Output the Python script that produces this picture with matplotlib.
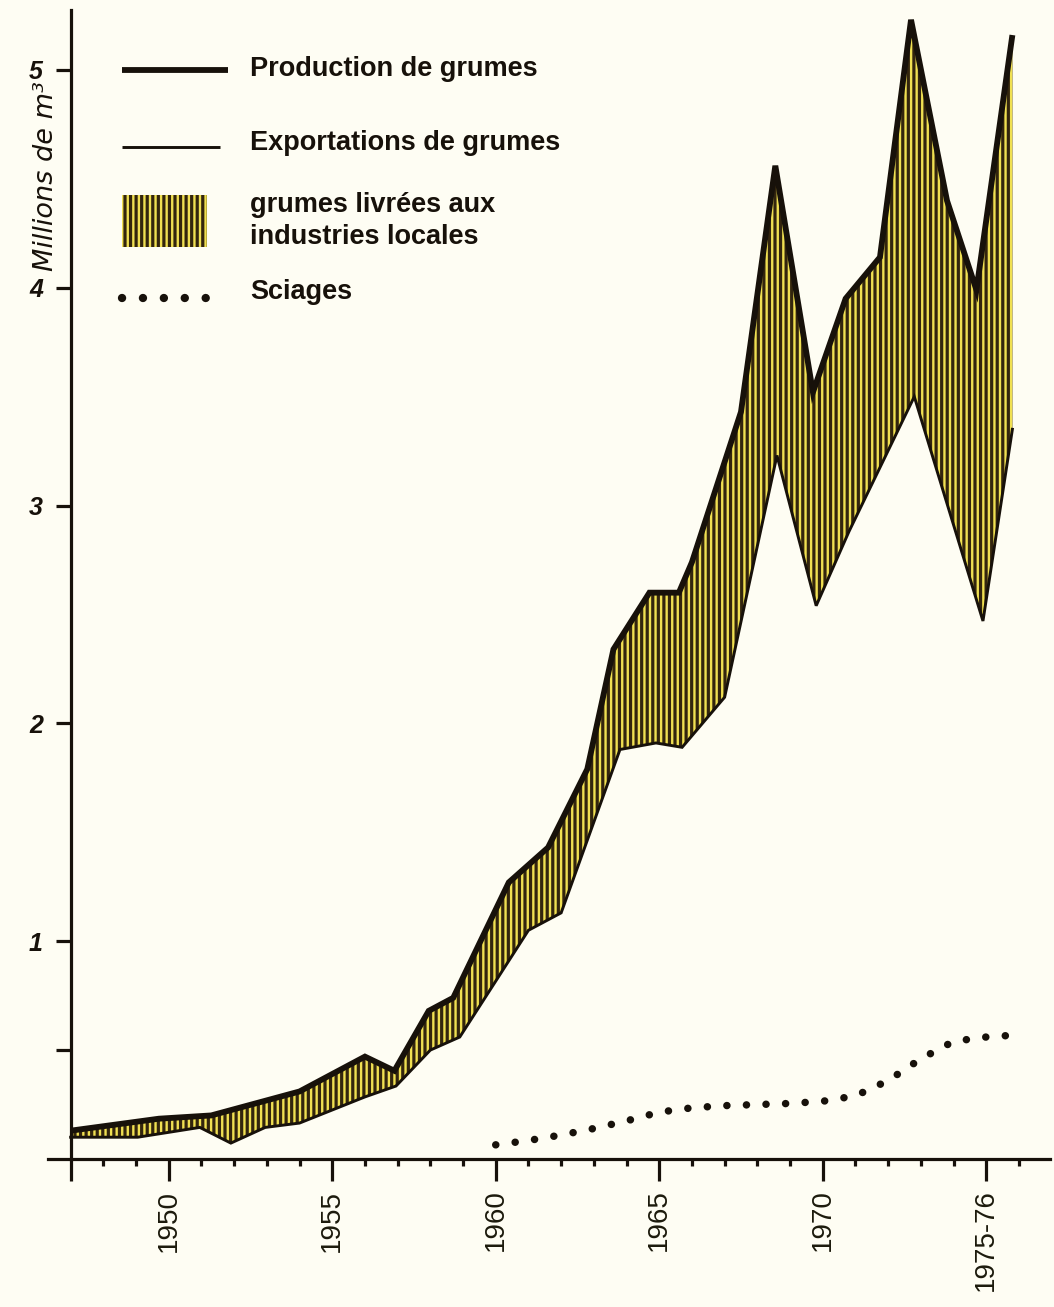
import numpy as np
import matplotlib
matplotlib.use("Agg")
import matplotlib.pyplot as plt
from matplotlib.lines import Line2D
from matplotlib.patches import Rectangle

# ---------------- data (x in years) ----------------
prod_x = [1947.0, 1949.7, 1951.3, 1954.0, 1956.0, 1956.9, 1957.95, 1958.7,
          1960.4, 1961.6, 1962.8, 1963.6, 1964.7, 1965.6, 1966.0, 1967.5,
          1968.55, 1969.7, 1970.7, 1971.75, 1972.7, 1973.8, 1974.7, 1975.8]
prod_y = [0.13, 0.185, 0.20, 0.31, 0.47, 0.405, 0.68, 0.74,
          1.27, 1.43, 1.79, 2.34, 2.60, 2.60, 2.74, 3.43,
          4.56, 3.52, 3.95, 4.14, 5.23, 4.40, 3.99, 5.16]

exp_x = [1947.0, 1949.05, 1950.95, 1951.9, 1952.95, 1954.0, 1956.0, 1956.95,
         1958.0, 1958.9, 1961.0, 1962.0, 1963.8, 1964.9, 1965.7, 1967.0,
         1968.6, 1969.8, 1970.8, 1972.8, 1974.9, 1975.8]
exp_y = [0.10, 0.10, 0.145, 0.073, 0.145, 0.165, 0.285, 0.335,
         0.50, 0.56, 1.05, 1.13, 1.88, 1.91, 1.89, 2.12,
         3.23, 2.54, 2.88, 3.50, 2.47, 3.35]

sci_years = list(range(1960, 1977))
sci_vals = [0.065, 0.085, 0.11, 0.14, 0.175, 0.215, 0.235, 0.245, 0.25,
            0.255, 0.265, 0.29, 0.36, 0.46, 0.54, 0.56, 0.57]

xtick_pos = [1947, 1950, 1955, 1960, 1965, 1970, 1975]
xtick_lab = ["", "1950", "1955", "1960", "1965", "1970", "1975-76"]
ytick_pos = [1, 2, 3, 4, 5]
ytick_lab = ["1", "2", "3", "4", "5"]

labels = ["Production de grumes", "Exportations de grumes",
          "grumes livrées aux\nindustries locales", "Sciages"]

# ---------------- style ----------------
W, H = 1054, 1307
BG = "#fefdf3"
INK = "#17110a"
YEL = "#f0e052"
HATCH = "#33250e"
plt.rcParams["hatch.linewidth"] = 2.3
plt.rcParams["hatch.color"] = HATCH

fig = plt.figure(figsize=(W / 100, H / 100), dpi=100, facecolor=BG)
ax = fig.add_axes([0.0453, 0.11324, 0.9509, 0.87911])
ax.set_facecolor(BG)
ax.set_xlim(1946.3, 1976.95)
ax.set_ylim(0, 5.275)

# band between production and exports
poly_x = np.concatenate([prod_x, exp_x[::-1]])
poly_y = np.concatenate([prod_y, exp_y[::-1]])
ax.fill(poly_x, poly_y, facecolor=YEL, edgecolor=HATCH, hatch="|||",
        linewidth=0, zorder=2)

ax.plot(exp_x, exp_y, color=INK, lw=2.1, solid_joinstyle="miter", zorder=3)
ax.plot(prod_x, prod_y, color=INK, lw=4.2, solid_joinstyle="miter",
        solid_capstyle="butt", zorder=4)

ax.plot(sci_years, sci_vals, color=INK, lw=5.4, linestyle=(0, (0.01, 2.6)),
        dash_capstyle="round", zorder=4)

# ---------------- axes ----------------
for s in ["top", "right"]:
    ax.spines[s].set_visible(False)
ax.spines["left"].set_position(("data", 1947))
for s in ["left", "bottom"]:
    ax.spines[s].set_linewidth(2.3)
    ax.spines[s].set_color(INK)

ax.set_xticks(xtick_pos)
ax.set_xticklabels(xtick_lab, rotation=90, fontsize=20,
                   fontfamily="Liberation Sans", color="#1c1a0c")
ax.set_xticks(list(range(1948, 1977)), minor=True)
ax.tick_params(axis="x", which="major", length=16, width=2.3, color=INK,
               direction="out", pad=6)
ax.tick_params(axis="x", which="minor", length=5, width=2.3, color=INK,
               direction="out")

ax.set_yticks(ytick_pos)
ax.set_yticklabels(ytick_lab, fontsize=18, fontfamily="Liberation Sans",
                   fontweight="bold", fontstyle="italic", color=INK)
ax.set_yticks([0.5], minor=True)
ax.tick_params(axis="y", which="both", length=11, width=2.3, color=INK,
               direction="out", pad=9)

fig.text(46 / W, 1 - 176 / H, "Millions de m³", rotation=90,
         ha="center", va="center", fontsize=19.5, fontstyle="italic",
         fontfamily="DejaVu Sans", color=INK)

# ---------------- legend (layout in figure pixels from top-left) ----------------
def P(x, y):
    return x / W, 1 - y / H


tf = fig.transFigure
x0, y0 = P(122, 70)
x1, _ = P(228, 70)
fig.add_artist(Line2D([x0, x1], [y0, y0], transform=tf, color=INK, lw=4.2,
                      solid_capstyle="butt"))
x0, y0 = P(122, 147)
x1, _ = P(220, 147)
fig.add_artist(Line2D([x0, x1], [y0, y0], transform=tf, color=INK, lw=2.1,
                      solid_capstyle="butt"))
rx, ry = P(122, 247)
fig.add_artist(Rectangle((rx, ry), 85 / W, 52 / H, transform=tf,
                         facecolor=YEL, edgecolor=HATCH, hatch="|||",
                         linewidth=0))
x0, y0 = P(122, 298)
x1, _ = P(206, 298)
fig.add_artist(Line2D([x0, x1], [y0, y0], transform=tf, color=INK, lw=6.0,
                      linestyle=(0, (0.01, 2.5)), dash_capstyle="round"))

text_kw = dict(fontfamily="Liberation Sans", fontweight="bold", fontsize=19.5,
               color=INK, ha="left", va="baseline")
baselines = [[76], [150], [212, 244], [299]]
for lab, bls in zip(labels, baselines):
    for line, bl in zip(lab.split("\n"), bls):
        fig.text(*P(250, bl), line, **text_kw)

fig.savefig("out.png", dpi=100, facecolor=BG)
